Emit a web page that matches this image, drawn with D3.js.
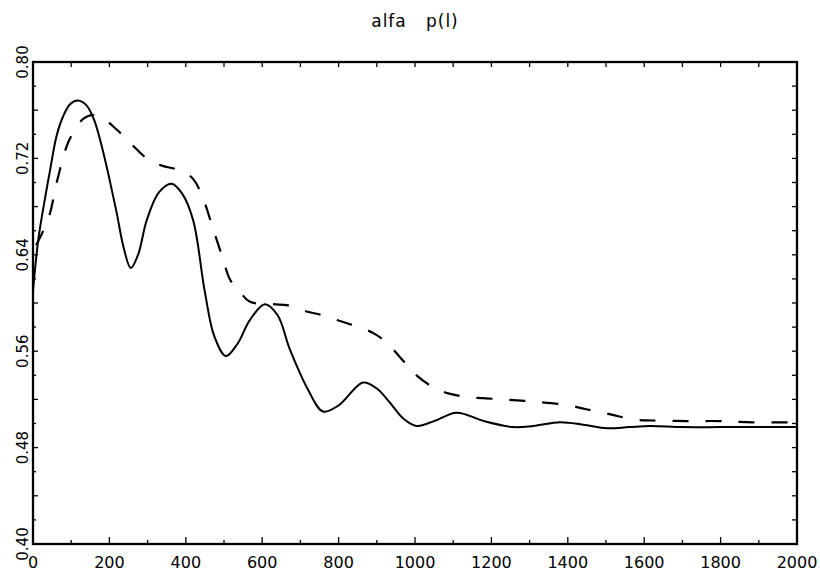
<!DOCTYPE html>
<html>
<head>
<meta charset="utf-8">
<script src="https://cdn.jsdelivr.net/npm/d3@7"></script>
<style>
  body { margin: 0; background: #fff; }
  text { font-family: "DejaVu Sans", sans-serif; fill: #000; }
</style>
</head>
<body>
<svg width="820" height="576"></svg>
<script>
// solid curve  (t, p)
let solidT = [0, 14, 31, 44, 62, 79, 97, 118, 140, 160, 180, 200, 219, 238, 256, 275, 298, 330, 363, 390, 419, 450, 475, 505, 535, 568, 607, 640, 673, 720, 759, 800, 864, 900, 935, 970, 1004, 1050, 1109, 1180, 1257, 1310, 1380, 1440, 1503, 1560, 1615, 1700, 1800, 1900, 2000];
let solidP = [0.610, 0.653, 0.686, 0.709, 0.739, 0.755, 0.765, 0.768, 0.764, 0.752, 0.730, 0.703, 0.675, 0.645, 0.629, 0.640, 0.669, 0.692, 0.699, 0.691, 0.669, 0.609, 0.572, 0.556, 0.566, 0.586, 0.599, 0.590, 0.561, 0.528, 0.510, 0.515, 0.534, 0.529, 0.517, 0.504, 0.498, 0.502, 0.509, 0.502, 0.497, 0.498, 0.501, 0.499, 0.496, 0.497, 0.498, 0.497, 0.497, 0.497, 0.497];

// dashed curve
let dashT = [8, 24, 44, 62, 88, 101, 132, 158, 180, 219, 254, 298, 337, 385, 419, 446, 472, 498, 515, 542, 568, 629, 668, 716, 756, 804, 843, 891, 926, 969, 1000, 1048, 1087, 1135, 1178, 1230, 1318, 1405, 1445, 1492, 1532, 1581, 1623, 1712, 1798, 1885, 2000];
let dashP = [0.648, 0.658, 0.674, 0.700, 0.730, 0.739, 0.753, 0.756, 0.754, 0.744, 0.733, 0.720, 0.714, 0.710, 0.703, 0.686, 0.661, 0.636, 0.620, 0.609, 0.601, 0.599, 0.598, 0.593, 0.590, 0.585, 0.581, 0.575, 0.567, 0.552, 0.541, 0.530, 0.525, 0.522, 0.521, 0.520, 0.518, 0.515, 0.512, 0.509, 0.506, 0.503, 0.5025, 0.502, 0.502, 0.501, 0.501];

let xTickLabels = [0, 200, 400, 600, 800, 1000, 1200, 1400, 1600, 1800, 2000];
let yTickLabels = [0.40, 0.48, 0.56, 0.64, 0.72, 0.80];
let title = 'alfa   p(l)';

let x0 = 33, x1 = 797, y0 = 62, y1 = 544;
let svg = d3.select('svg');

let x = d3.scaleLinear().domain([0, 2000]).range([x0, x1]);
let y = d3.scaleLinear().domain([0.40, 0.80]).range([y1, y0]);

// frame
svg.append('rect')
  .attr('x', x0).attr('y', y0)
  .attr('width', x1 - x0).attr('height', y1 - y0)
  .attr('fill', 'none').attr('stroke', 'black').attr('stroke-width', 2.3);

// ticks, all pointing inwards
let tk = svg.append('g').attr('stroke', 'black').attr('stroke-width', 1.3);
d3.range(100, 2000, 100).forEach(function (t) {
  let len = t % 200 == 0 ? 7 : 4;
  tk.append('line').attr('x1', x(t)).attr('x2', x(t)).attr('y1', y1).attr('y2', y1 - len);
  tk.append('line').attr('x1', x(t)).attr('x2', x(t)).attr('y1', y0).attr('y2', y0 + 5);
});
d3.range(1, 20).forEach(function (i) {
  let v = 0.40 + i * 0.02;
  let len = i % 2 == 0 ? 5 : 3;
  tk.append('line').attr('x1', x0).attr('x2', x0 + len).attr('y1', y(v)).attr('y2', y(v));
  tk.append('line').attr('x1', x1).attr('x2', x1 - 5).attr('y1', y(v)).attr('y2', y(v));
});

// labels
svg.selectAll('text.xl').data(xTickLabels).enter().append('text')
  .attr('class', 'xl')
  .attr('x', d => x(d)).attr('y', 568)
  .attr('text-anchor', 'middle')
  .attr('font-size', 16)
  .text(d => d);

svg.selectAll('text.yl').data(yTickLabels).enter().append('text')
  .attr('class', 'yl')
  .attr('transform', d => 'translate(28,' + y(d) + ') rotate(-90)')
  .attr('text-anchor', 'middle')
  .attr('font-size', 15)
  .text(d => d.toFixed(2));

svg.append('text')
  .attr('x', 415).attr('y', 27)
  .attr('text-anchor', 'middle')
  .attr('font-size', 17)
  .attr('letter-spacing', 1)
  .style('white-space', 'pre')
  .text(title);

// curves
let line = d3.line()
  .x(d => x(d[0]))
  .y(d => y(d[1]))
  .curve(d3.curveCatmullRom);

svg.append('path')
  .attr('d', line(d3.zip(solidT, solidP)))
  .attr('fill', 'none').attr('stroke', 'black').attr('stroke-width', 2);

svg.append('path')
  .attr('d', line(d3.zip(dashT, dashP)))
  .attr('fill', 'none').attr('stroke', 'black').attr('stroke-width', 2.2)
  .attr('stroke-dasharray', '16,17');
</script>
</body>
</html>
